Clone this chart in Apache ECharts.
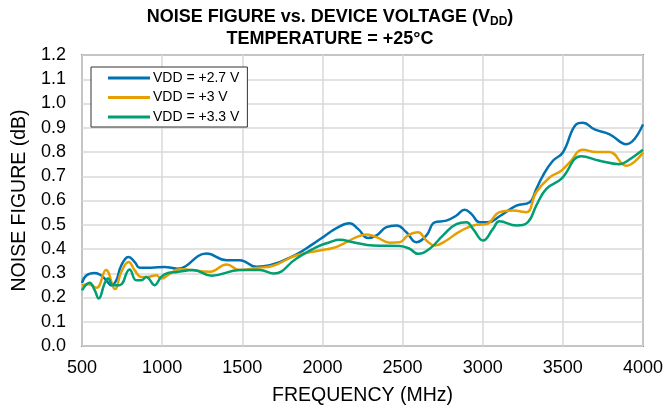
<!DOCTYPE html>
<html>
<head>
<meta charset="utf-8">
<title>Noise Figure vs Device Voltage</title>
<script src="https://cdn.jsdelivr.net/npm/echarts@6/dist/echarts.min.js"></script>
<style>
  html, body { margin: 0; padding: 0; background: #fff; }
  #chart { width: 667px; height: 411px; }
</style>
</head>
<body>
<div id="chart"></div>
<script>
// 读图得到的数据 (MHz / dB)
let freq27 = [500, 527, 579, 620, 651, 683, 714, 745, 791, 829, 860, 932, 1015, 1094, 1277, 1402, 1485, 1589, 1672, 1838, 1942, 2004, 2088, 2170, 2222, 2285, 2337, 2399, 2462, 2524, 2586, 2649, 2700, 2773, 2836, 2887, 2929, 2981, 3033, 3105, 3210, 3293, 3334, 3375, 3438, 3500, 3583, 3625, 3698, 3792, 3895, 4000];
let nf27 = [0.26, 0.291, 0.301, 0.291, 0.271, 0.25, 0.271, 0.332, 0.367, 0.346, 0.323, 0.323, 0.326, 0.319, 0.381, 0.354, 0.354, 0.327, 0.333, 0.378, 0.421, 0.449, 0.486, 0.506, 0.483, 0.445, 0.456, 0.49, 0.497, 0.469, 0.428, 0.456, 0.51, 0.517, 0.538, 0.562, 0.545, 0.51, 0.51, 0.535, 0.579, 0.593, 0.647, 0.702, 0.764, 0.798, 0.914, 0.921, 0.893, 0.873, 0.832, 0.914];

let freq30 = [500, 540, 590, 650, 706, 745, 791, 829, 870, 911, 963, 994, 1036, 1111, 1298, 1402, 1485, 1589, 1692, 1838, 1983, 2066, 2129, 2212, 2275, 2337, 2420, 2482, 2534, 2596, 2649, 2700, 2773, 2856, 2960, 3023, 3105, 3188, 3271, 3334, 3417, 3490, 3542, 3625, 3708, 3791, 3895, 4000];
let nf30 = [0.25, 0.255, 0.24, 0.313, 0.235, 0.305, 0.346, 0.312, 0.285, 0.285, 0.292, 0.278, 0.292, 0.317, 0.306, 0.336, 0.313, 0.322, 0.331, 0.374, 0.394, 0.404, 0.421, 0.449, 0.46, 0.449, 0.426, 0.428, 0.456, 0.469, 0.435, 0.414, 0.435, 0.472, 0.5, 0.503, 0.552, 0.559, 0.552, 0.634, 0.695, 0.723, 0.757, 0.809, 0.8, 0.8, 0.743, 0.798];

let freq33 = [500, 548, 579, 604, 641, 662, 693, 735, 797, 838, 870, 901, 953, 994, 1036, 1094, 1194, 1308, 1485, 1609, 1697, 1838, 1963, 2046, 2108, 2191, 2316, 2482, 2544, 2596, 2669, 2752, 2836, 2898, 2939, 3002, 3064, 3105, 3210, 3282, 3334, 3397, 3490, 3615, 3729, 3854, 3895, 4000];
let nf33 = [0.23, 0.261, 0.23, 0.196, 0.258, 0.278, 0.251, 0.251, 0.315, 0.271, 0.271, 0.285, 0.251, 0.285, 0.301, 0.305, 0.313, 0.29, 0.313, 0.313, 0.299, 0.361, 0.408, 0.428, 0.438, 0.428, 0.414, 0.412, 0.401, 0.38, 0.401, 0.456, 0.503, 0.51, 0.483, 0.435, 0.483, 0.514, 0.497, 0.511, 0.579, 0.648, 0.689, 0.782, 0.764, 0.75, 0.76, 0.809];

let seriesNames = ['VDD = +2.7 V', 'VDD = +3 V', 'VDD = +3.3 V'];
let colors = ['#0072B2', '#E69F00', '#009E73'];

function pairs (xs, ys) {
  return xs.map(function (x, i) { return [x, ys[i]]; });
}

let font = 'Liberation Sans, Arial, sans-serif';
let myChart = echarts.init(document.getElementById('chart'));

let lines = [[freq27, nf27], [freq30, nf30], [freq33, nf33]].map(function (d, i) {
  return {
    name: seriesNames[i],
    type: 'line',
    smooth: 0.45,
    symbol: 'none',
    lineStyle: { width: 2.5, color: colors[i] },
    itemStyle: { color: colors[i] },
    data: pairs(d[0], d[1])
  };
});

myChart.setOption({
  backgroundColor: '#ffffff',
  animation: false,
  color: colors,
  title: {
    text: '{b|NOISE FIGURE vs. DEVICE VOLTAGE (V}{s|DD}{b|)}\n{b|TEMPERATURE = +25°C}',
    left: 330,
    top: 6,
    padding: 0,
    textAlign: 'center',
    textStyle: {
      rich: {
        b: { fontFamily: font, fontSize: 18, fontWeight: 'bold', color: '#000', lineHeight: 22 },
        s: { fontFamily: font, fontSize: 12, fontWeight: 'bold', color: '#000', lineHeight: 12, verticalAlign: 'bottom' }
      }
    }
  },
  legend: {
    orient: 'vertical',
    left: 91,
    top: 67,
    padding: [4, 8, 3, 17],
    icon: 'rect',
    itemWidth: 42,
    itemHeight: 3,
    itemGap: 5.5,
    borderColor: '#333',
    borderWidth: 1,
    backgroundColor: '#fff',
    textStyle: { fontFamily: font, fontSize: 14, color: '#000', lineHeight: 14, padding: [0, 0, 0, -2] },
    data: seriesNames
  },
  grid: {
    left: 82,
    right: 24,
    top: 55,
    bottom: 63,
    show: true,
    borderColor: '#8c8c8c',
    borderWidth: 2,
    backgroundColor: '#fff'
  },
  xAxis: {
    type: 'value',
    min: 500,
    max: 4000,
    interval: 500,
    name: 'FREQUENCY (MHz)',
    nameLocation: 'middle',
    nameGap: 40,
    nameTextStyle: { fontFamily: font, fontSize: 19.5, color: '#000' },
    axisLine: { show: false },
    axisTick: { show: false },
    axisLabel: {
      fontFamily: font,
      fontSize: 18,
      color: '#000',
      margin: 13,
      formatter: function (v) { return String(v); }
    },
    splitLine: { show: true, lineStyle: { color: '#d9d9d9', width: 1.5 } }
  },
  yAxis: {
    type: 'value',
    min: 0,
    max: 1.2,
    interval: 0.1,
    name: 'NOISE FIGURE (dB)',
    nameLocation: 'middle',
    nameGap: 52,
    nameTextStyle: { fontFamily: font, fontSize: 19.5, color: '#000' },
    axisLine: { show: false },
    axisTick: { show: false },
    axisLabel: {
      fontFamily: font,
      fontSize: 18,
      color: '#000',
      margin: 16,
      formatter: function (v) { return v.toFixed(1); }
    },
    splitLine: { show: true, lineStyle: { color: '#d9d9d9', width: 1.5 } }
  },
  series: lines
});
</script>
</body>
</html>
